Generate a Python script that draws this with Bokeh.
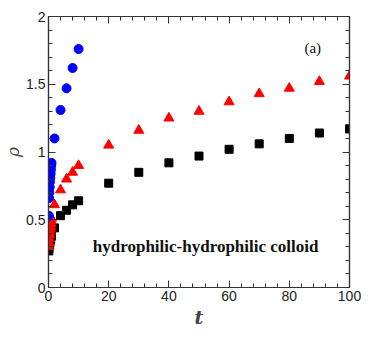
from bokeh.plotting import figure
from bokeh.models import FixedTicker, LinearAxis, Label, Range1d
from bokeh.embed import file_html
from bokeh.resources import INLINE

# times
t_short = [0.1, 0.2, 0.3, 0.4, 0.5, 0.6, 0.7, 0.8, 0.9, 1.0, 2, 4, 6, 8, 10]
t_long = t_short + [20, 30, 40, 50, 60, 70, 80, 90, 100]

# black squares
rho_black = [0.27, 0.29, 0.31, 0.33, 0.34, 0.35, 0.36, 0.37, 0.38, 0.39,
             0.44, 0.53, 0.57, 0.61, 0.64,
             0.77, 0.85, 0.92, 0.97, 1.02, 1.06, 1.10, 1.14, 1.17]
# red triangles
rho_red = [0.30, 0.33, 0.36, 0.39, 0.41, 0.43, 0.45, 0.47, 0.49, 0.51,
           0.61, 0.72, 0.80, 0.85, 0.90,
           1.05, 1.16, 1.25, 1.30, 1.37, 1.43, 1.47, 1.52, 1.56]
# blue circles
rho_blue = [0.53, 0.66, 0.70, 0.74, 0.78, 0.81, 0.84, 0.87, 0.90, 0.92,
            1.10, 1.31, 1.47, 1.62, 1.76]

x_major = [0, 20, 40, 60, 80, 100]
x_minor = [v for v in range(0, 101, 4)]
y_major = [0, 0.5, 1, 1.5, 2]
y_minor = [round(0.1 * i, 1) for i in range(0, 21)]
y_labels = {0: "0", 0.5: "0.5", 1: "1", 1.5: "1.5", 2: "2"}

p = figure(width=361, height=337, output_backend="svg", toolbar_location=None,
           x_range=Range1d(0, 100), y_range=Range1d(0, 2),
           x_axis_location=None, y_axis_location=None,
           min_border_left=47, min_border_right=12, min_border_top=16, min_border_bottom=50)
p.grid.visible = False
p.outline_line_color = "#333333"
p.outline_line_width = 1.2
p.background_fill_color = "white"
p.border_fill_color = "white"

def style(ax, is_x, show_labels):
    ax.ticker = FixedTicker(ticks=x_major if is_x else y_major,
                            minor_ticks=x_minor if is_x else y_minor)
    ax.axis_line_color = "#333333"
    ax.axis_line_width = 1.2
    ax.major_tick_in = 7
    ax.major_tick_out = 0
    ax.minor_tick_in = 4
    ax.minor_tick_out = 0
    ax.major_tick_line_color = "#333333"
    ax.minor_tick_line_color = "#333333"
    ax.major_label_text_font = "Liberation Sans"
    if show_labels:
        ax.major_label_text_font_size = "14px"
        ax.major_label_text_color = "#222222"
        ax.major_label_standoff = 3
    else:
        ax.major_label_text_font_size = "0px"
        ax.major_label_text_color = None
        ax.major_label_standoff = 0

xb = LinearAxis()
xt = LinearAxis()
yl = LinearAxis()
yr = LinearAxis()
style(xb, True, True)
style(xt, True, False)
style(yl, False, True)
style(yr, False, False)
yl.major_label_overrides = y_labels

xb.axis_label = "t"
xb.axis_label_text_font = "DejaVu Serif"
xb.axis_label_text_font_style = "bold italic"
xb.axis_label_text_font_size = "19px"
xb.axis_label_standoff = 2
yl.axis_label = "ρ"
yl.axis_label_text_font = "DejaVu Serif"
yl.axis_label_text_font_style = "italic"
yl.axis_label_text_font_size = "17px"
yl.axis_label_standoff = 0

p.add_layout(xb, "below")
p.add_layout(xt, "above")
p.add_layout(yl, "left")
p.add_layout(yr, "right")

p.scatter(t_long, rho_black, marker="square", size=8, color="black")
p.scatter(t_long, rho_red, marker="triangle", size=10, color="red")
p.scatter(t_short, rho_blue, marker="circle", size=9, color="blue")

p.add_layout(Label(x=52.2, y=0.30, text="hydrophilic-hydrophilic colloid",
                   text_font="Liberation Serif", text_font_style="bold",
                   text_font_size="17px", text_align="center", text_baseline="middle",
                   text_color="#111111"))
p.add_layout(Label(x=87.8, y=1.77, text="(a)", text_font="Liberation Serif",
                   text_font_size="15px", text_align="center", text_baseline="middle",
                   text_color="#111111"))

open("out.html", "w").write(file_html(p, INLINE))
